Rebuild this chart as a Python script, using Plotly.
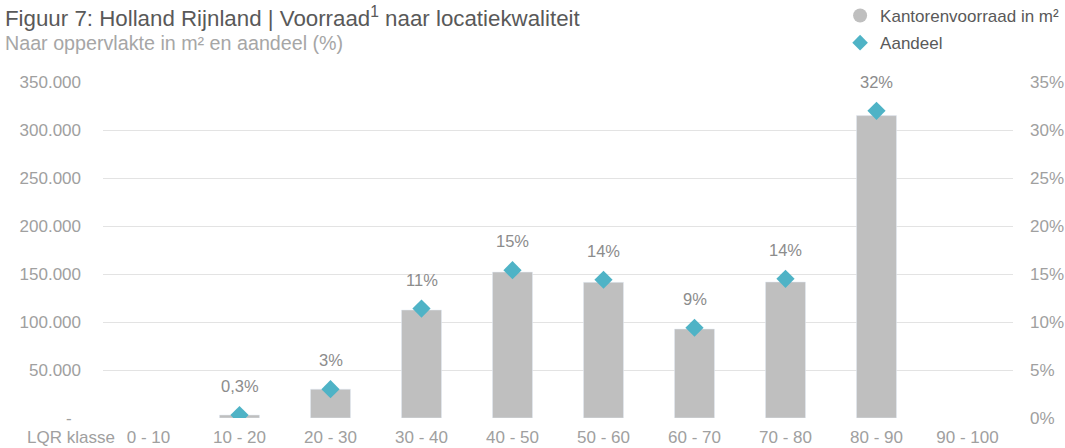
import plotly.graph_objects as go

categories = ["0 - 10", "10 - 20", "20 - 30", "30 - 40", "40 - 50",
              "50 - 60", "60 - 70", "70 - 80", "80 - 90", "90 - 100"]
voorraad_m2 = [None, 3100, 30000, 112500, 152000, 141300, 92700, 141700, 315000, None]
aandeel = [None, 0.003, 0.030, 0.114, 0.154, 0.144, 0.094, 0.145, 0.320, None]
aandeel_labels = ["", "0,3%", "3%", "11%", "15%", "14%", "9%", "14%", "32%", ""]

left_tickvals = [0, 50000, 100000, 150000, 200000, 250000, 300000, 350000]
left_ticktext = ["-\u00a0\u00a0", "50.000", "100.000", "150.000", "200.000",
                 "250.000", "300.000", "350.000"]
right_tickvals = [0, 0.05, 0.10, 0.15, 0.20, 0.25, 0.30, 0.35]
right_ticktext = ["0%", "5%", "10%", "15%", "20%", "25%", "30%", "35%"]

BAR = "#bfbfbf"
TEAL = "#4fb3c6"
TICK = "#a0a0a0"
FONT = "Liberation Sans, Arial, sans-serif"

fig = go.Figure()
fig.add_trace(go.Bar(x=categories, y=voorraad_m2, marker_color=BAR, width=0.44,
                     showlegend=False, name="Kantorenvoorraad in m²"))
fig.add_trace(go.Scatter(x=categories, y=aandeel, yaxis="y2", mode="markers",
                         marker=dict(symbol="diamond", size=14, color=TEAL),
                         showlegend=False, name="Aandeel"))
# legend entries
fig.add_trace(go.Scatter(x=[None], y=[None], mode="markers", name="Kantorenvoorraad in m²",
                         legendgroup="a", marker=dict(symbol="circle", size=14, color=BAR)))
fig.add_trace(go.Scatter(x=[None], y=[None], mode="markers", name="Aandeel",
                         legendgroup="b", marker=dict(symbol="diamond", size=12, color=TEAL)))

annotations = []
for c, v, t in zip(categories, aandeel, aandeel_labels):
    if v is None:
        continue
    annotations.append(dict(x=c, y=v, yref="y2", text=t, showarrow=False, yshift=29,
                            font=dict(size=16.5, color="#8c8c8c", family=FONT)))
annotations.append(dict(xref="paper", yref="paper", x=0.0154, y=-0.059, xanchor="right",
                        yanchor="middle", text="LQR klasse", showarrow=False,
                        font=dict(size=17, color=TICK, family=FONT)))
annotations.append(dict(xref="paper", yref="paper", x=-0.1099, y=1.194, xanchor="left",
                        yanchor="middle", showarrow=False,
                        text="Figuur 7: Holland Rijnland | Voorraad<sup>1</sup> naar locatiekwaliteit",
                        font=dict(size=22.3, color="#595959", family=FONT)))
annotations.append(dict(xref="paper", yref="paper", x=-0.1099, y=1.116, xanchor="left",
                        yanchor="middle", showarrow=False,
                        text="Naar oppervlakte in m² en aandeel (%)",
                        font=dict(size=19.7, color="#a6a6a6", family=FONT)))

fig.update_layout(
    width=1065, height=448,
    margin=dict(l=103, r=52, t=82, b=30, autoexpand=False),
    paper_bgcolor="white", plot_bgcolor="white",
    font=dict(family=FONT, color=TICK, size=17),
    bargap=0.56,
    xaxis=dict(type="category", showgrid=False, ticks="", tickfont=dict(size=17, color=TICK),
               showline=False, zeroline=False, range=[-0.5, 9.5], automargin=False,
               ticklabelstandoff=7),
    yaxis=dict(range=[0, 350000], tickvals=left_tickvals, ticktext=left_ticktext,
               showgrid=True, gridcolor="#e3e3e3", gridwidth=1, zeroline=False,
               tickfont=dict(size=17, color=TICK), ticklabelstandoff=21, automargin=False),
    yaxis2=dict(range=[0, 0.35], tickvals=right_tickvals, ticktext=right_ticktext,
                overlaying="y", side="right", showgrid=False, zeroline=False,
                tickfont=dict(size=17, color=TICK), ticklabelstandoff=16, automargin=False),
    legend=dict(x=0.81, y=1.25, xanchor="left", yanchor="top", bgcolor="rgba(0,0,0,0)",
                font=dict(size=17, color="#595959", family=FONT), tracegroupgap=2,
                itemwidth=30),
    annotations=annotations,
)

fig.write_html("out.html", config={"displayModeBar": False},
               post_script="document.body.style.margin='0';document.body.style.padding='0';")
